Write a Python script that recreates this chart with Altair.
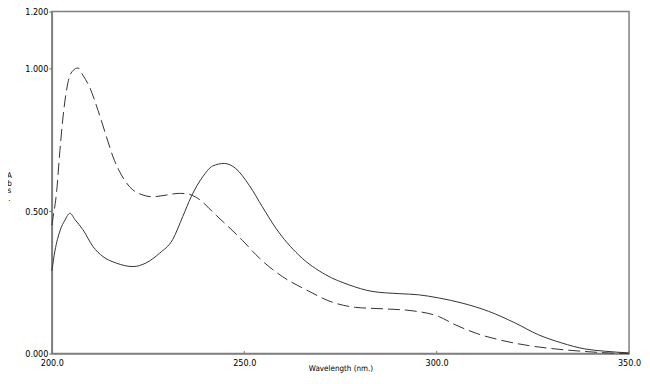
import altair as alt
import pandas as pd

# Solid spectrum
solid_wl = [200.0, 200.8, 202.1, 203.4, 204.7, 206.0, 208.1, 210.7, 213.3, 216.8,
            221.1, 224.5, 228.0, 231.4, 234.0, 236.2, 239.2, 241.8, 244.8, 247.8,
            251.3, 254.7, 258.2, 264.2, 271.2, 277.2, 283.2, 290.2, 295.3, 300.5,
            306.6, 313.5, 320.4, 326.4, 332.5, 338.5, 343.7, 350.0]
solid_abs = [0.29, 0.36, 0.43, 0.468, 0.492, 0.47, 0.434, 0.375, 0.34, 0.317,
             0.305, 0.318, 0.352, 0.40, 0.48, 0.55, 0.62, 0.658, 0.667, 0.649,
             0.59, 0.515, 0.44, 0.345, 0.276, 0.241, 0.218, 0.21, 0.206, 0.195,
             0.177, 0.148, 0.107, 0.066, 0.037, 0.016, 0.008, 0.002]

# Dashed spectrum
dash_wl = [200.0, 200.2, 201.2, 202.1, 202.9, 204.2, 205.5, 206.8, 208.1, 209.8,
           212.0, 214.2, 215.9, 218.1, 220.2, 223.7, 226.2, 229.7, 233.2, 235.3,
           237.5, 242.7, 249.6, 253.9, 259.9, 266.0, 272.9, 278.9, 285.8, 293.6,
           300.5, 304.8, 310.9, 316.9, 323.8, 330.8, 337.6, 344.6, 350.0]
dash_abs = [0.45, 0.468, 0.563, 0.713, 0.83, 0.952, 0.993, 1.002, 0.976, 0.935,
            0.853, 0.76, 0.69, 0.626, 0.585, 0.556, 0.55, 0.556, 0.562, 0.56,
            0.548, 0.485, 0.396, 0.335, 0.27, 0.224, 0.18, 0.162, 0.157, 0.15,
            0.13, 0.101, 0.068, 0.046, 0.028, 0.016, 0.008, 0.002, 0.0]

x_ticks = [200, 250, 300, 350]
y_ticks = [0.0, 0.5, 1.0, 1.2]

solid_df = pd.DataFrame({"wl": solid_wl, "abs": solid_abs})
dash_df = pd.DataFrame({"wl": dash_wl, "abs": dash_abs})
tick_df = pd.DataFrame({"wl": x_ticks})

FONT = "Liberation Sans Narrow, DejaVu Sans Condensed, Liberation Sans"

x_enc = alt.X("wl:Q", scale=alt.Scale(domain=[200, 350], nice=False, zero=False),
              axis=alt.Axis(values=x_ticks, format=".1f", title="Wavelength (nm.)",
                            tickSize=0, labelPadding=5, titlePadding=-3,
                            grid=False, labelFlush=False))
y_enc = alt.Y("abs:Q", scale=alt.Scale(domain=[0, 1.2], nice=False),
              axis=alt.Axis(values=y_ticks, format=".3f", title=["A", "b", "s", "."],
                            titleAngle=0, titleAlign="center", titleBaseline="top",
                            titleX=-43, titleY=160, titleLineHeight=8, titleFontSize=8,
                            tickSize=3, labelPadding=1, grid=False))

solid = alt.Chart(solid_df).mark_line(color="#333333", strokeWidth=1,
                                      interpolate="monotone").encode(x=x_enc, y=y_enc)
dashed = alt.Chart(dash_df).mark_line(color="#333333", strokeWidth=1, strokeDash=[12, 5],
                                      interpolate="monotone").encode(x="wl:Q", y="abs:Q")
ticks = alt.Chart(tick_df).mark_rule(color="#777777", strokeWidth=1).encode(
    x="wl:Q", y=alt.datum(0), y2=alt.datum(0.009))

chart = alt.layer(solid, dashed, ticks).properties(
    width=579, height=343,
    autosize=alt.AutoSizeParams(type="none"),
    padding={"left": 44, "top": 3, "right": 13, "bottom": 20},
).configure_view(
    stroke="#808080", strokeWidth=1.5
).configure_axis(
    labelFont=FONT, titleFont=FONT, labelFontSize=9, titleFontSize=8,
    titleFontWeight="normal", labelColor="#000000", titleColor="#000000",
    domainColor="#808080", domainWidth=1.5, tickColor="#666666"
)

chart.save("out.html", embed_options={"renderer": "svg", "actions": False})
